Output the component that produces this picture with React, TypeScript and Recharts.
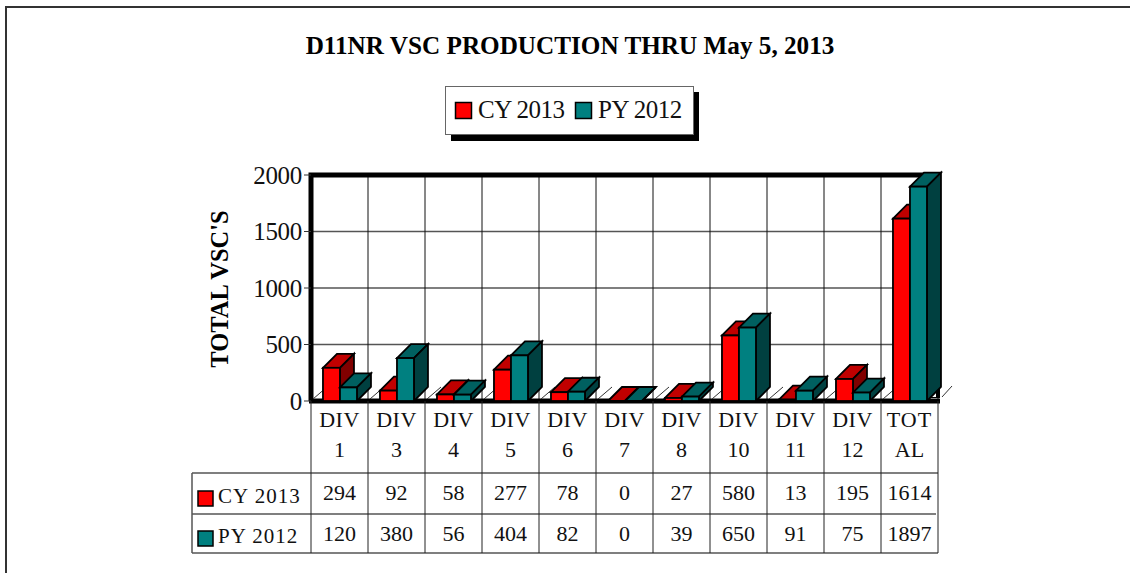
import React from "react";
import { BarChart, Bar, XAxis, YAxis, CartesianGrid, Customized } from "recharts";

const categories = ["DIV 1", "DIV 3", "DIV 4", "DIV 5", "DIV 6", "DIV 7", "DIV 8", "DIV 10", "DIV 11", "DIV 12", "TOTAL"];
const tickTop = ["DIV", "DIV", "DIV", "DIV", "DIV", "DIV", "DIV", "DIV", "DIV", "DIV", "TOT"];
const tickBottom = ["1", "3", "4", "5", "6", "7", "8", "10", "11", "12", "AL"];
const cy2013 = [294, 92, 58, 277, 78, 0, 27, 580, 13, 195, 1614];
const py2012 = [120, 380, 56, 404, 82, 0, 39, 650, 91, 75, 1897];
const yTicks = [0, 500, 1000, 1500, 2000];

const data = categories.map((name, i) => ({ name, cy: cy2013[i], py: py2012[i] }));

const FONT = "'Liberation Serif', 'Times New Roman', serif";
const RED = "#ff0000";
const RED_TOP = "#c00000";
const RED_SIDE = "#800000";
const TEAL = "#008080";
const TEAL_TOP = "#006060";
const TEAL_SIDE = "#004040";
const DEPTH = 14;
const PLOT_L = 311;
const PLOT_R = 938;
const PLOT_T = 175;
const PLOT_B = 401;
const BAND = (PLOT_R - PLOT_L) / categories.length;
const ROW1 = 473;
const ROW2 = 514;
const ROW3 = 553;
const TABLE_L = 192;

function make3D(front: string, top: string, side: string) {
  return function Bar3D(props: any) {
    const { x, y, width, height } = props;
    const d = DEPTH;
    return (
      <g stroke="#000" strokeWidth={1.8} strokeLinejoin="miter">
        <polygon points={`${x},${y} ${x + d},${y - d} ${x + width + d},${y - d} ${x + width},${y}`} fill={top} />
        <polygon points={`${x + width},${y} ${x + width + d},${y - d} ${x + width + d},${y + height - d} ${x + width},${y + height}`} fill={side} />
        <rect x={x} y={y} width={width} height={height} fill={front} />
      </g>
    );
  };
}
const RedBar = make3D(RED, RED_TOP, RED_SIDE);
const TealBar = make3D(TEAL, TEAL_TOP, TEAL_SIDE);

function ColumnTick(props: any) {
  const { x, payload, index } = props;
  const i = index ?? payload.index;
  const left = x - BAND / 2;
  const right = x + BAND / 2;
  return (
    <g fontFamily={FONT} fontSize={22} fill="#111" textAnchor="middle">
      <line x1={left} x2={left} y1={PLOT_B} y2={ROW3} stroke="#222" strokeWidth={1} />
      {i === categories.length - 1 && <line x1={right} x2={right} y1={PLOT_B} y2={ROW3} stroke="#222" strokeWidth={1} />}
      <text x={x} y={427} letterSpacing={i === categories.length - 1 ? 1 : 0.5}>{tickTop[i]}</text>
      <text x={x} y={457}>{tickBottom[i]}</text>
      <text x={x} y={500}>{cy2013[i]}</text>
      <text x={x} y={541}>{py2012[i]}</text>
    </g>
  );
}

const gridVerticals = () => [...categories.map((_, i) => PLOT_L + i * BAND), PLOT_R];

function Decor() {
  return (
    <g fontFamily={FONT}>
      {/* outer frame */}
      <path d="M6 573 V7 H1130" fill="none" stroke="#333" strokeWidth={2} />
      <text x={570} y={54} textAnchor="middle" fontSize={25.2} fontWeight="bold" fill="#000">D11NR VSC PRODUCTION THRU May 5, 2013</text>
      {/* legend */}
      <rect x={451} y={92} width={248} height={49} fill="#000" />
      <rect x={445.5} y={86.5} width={248} height={48} fill="#fff" stroke="#666" strokeWidth={1} />
      <rect x={455.5} y={102.5} width={16} height={16} fill={RED} stroke="#000" strokeWidth={1.5} />
      <text x={478} y={118} fontSize={25} letterSpacing={-0.5} fill="#111">CY 2013</text>
      <rect x={575.5} y={102.5} width={16} height={16} fill={TEAL} stroke="#000" strokeWidth={1.5} />
      <text x={598} y={118} fontSize={25} letterSpacing={-0.5} fill="#111">PY 2012</text>
      {/* plot frame */}
      <path d={`M${PLOT_L} ${PLOT_B} V${PLOT_T} H${PLOT_R + 3}`} fill="none" stroke="#000" strokeWidth={5} />
      <line x1={PLOT_L - 2} x2={PLOT_R + 2} y1={PLOT_B} y2={PLOT_B} stroke="#000" strokeWidth={5} />
      {/* table */}
      <g stroke="#555" strokeWidth={1.5}>
        <line x1={TABLE_L} x2={PLOT_R} y1={ROW1} y2={ROW1} />
        <line x1={TABLE_L} x2={PLOT_R - 2} y1={ROW2} y2={ROW2} />
        <line x1={TABLE_L} x2={PLOT_R} y1={ROW3} y2={ROW3} />
        <line x1={TABLE_L} x2={TABLE_L} y1={ROW1} y2={ROW3} />
      </g>
      <rect x={198} y={491} width={15} height={15} fill={RED} stroke="#000" strokeWidth={1.5} />
      <text x={218} y={503} fontSize={21} letterSpacing={1} fill="#111">CY 2013</text>
      <rect x={198} y={531} width={15} height={15} fill={TEAL} stroke="#000" strokeWidth={1.5} />
      <text x={218} y={543} fontSize={21} letterSpacing={1} fill="#111">PY 2012</text>
      <text transform="translate(228 289) rotate(-90)" textAnchor="middle" fontSize={24.5} fontWeight="bold" fill="#000">TOTAL VSC'S</text>
      {/* floor slants */}
      {categories.map((c, i) => (
        <line key={c} x1={PLOT_L + i * BAND + 2} y1={399} x2={PLOT_L + i * BAND + 16} y2={387} stroke="#333" strokeWidth={1} />
      ))}
    </g>
  );
}

function Corner() {
  return (
    <g>
      <polygon points={`927,398 ${PLOT_R + 2},385 ${PLOT_R + 2},398`} fill="#000" />
      <polygon points="930,397 936,391 936,397" fill="#fff" />
      <line x1={942} y1={397} x2={952} y2={386} stroke="#333" strokeWidth={1} />
    </g>
  );
}

export default function App() {
  return (
    <div style={{ position: "absolute", left: 0, top: 0 }}>
      <BarChart
        width={1130}
        height={573}
        data={data}
        margin={{ top: PLOT_T, left: PLOT_L - 60, right: 1130 - PLOT_R, bottom: 573 - PLOT_B - 60 }}
        barCategoryGap="21%"
        barGap={0}
      >
        <CartesianGrid stroke="#555" strokeWidth={1.5} vertical={false} />
        <CartesianGrid stroke="#111" strokeWidth={1} horizontal={false} verticalCoordinatesGenerator={gridVerticals} />
        <XAxis dataKey="name" axisLine={false} tickLine={false} interval={0} height={60} tick={<ColumnTick />} />
        <YAxis
          domain={[0, 2000]}
          ticks={yTicks}
          width={60}
          axisLine={false}
          tickLine={{ stroke: "#333" }}
          tickSize={7}
          tickMargin={2}
          tick={{ fontFamily: FONT, fontSize: 25, letterSpacing: -0.3, fill: "#111" }}
        />
        <Customized component={Decor} />
        <Customized component={Corner} />
        <Bar dataKey="cy" shape={RedBar} isAnimationActive={false} />
        <Bar dataKey="py" shape={TealBar} isAnimationActive={false} />
      </BarChart>
    </div>
  );
}
